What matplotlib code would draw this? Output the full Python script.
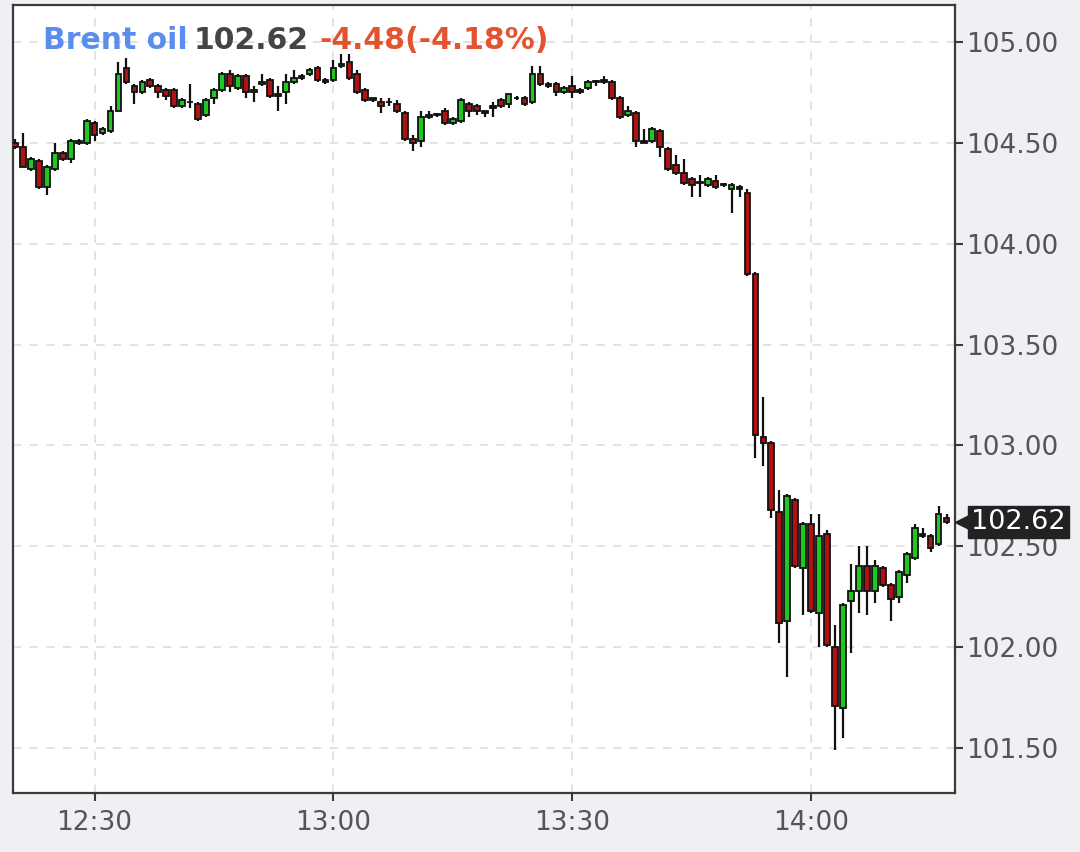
import matplotlib
matplotlib.use("Agg")
import numpy as np
import pandas as pd
import matplotlib.pyplot as plt
import matplotlib.dates as mdates
import matplotlib.transforms as mtransforms

# one-minute candles, 12:20 .. 14:17
times = pd.date_range("2022-03-01 12:20", periods=118, freq="min")

opens = [104.50, 104.48, 104.37, 104.41, 104.28, 104.37, 104.45, 104.42, 104.50, 104.50,
         104.60, 104.55, 104.56, 104.66, 104.87, 104.78, 104.75, 104.81, 104.78, 104.76,
         104.76, 104.68, 104.70, 104.69, 104.64, 104.72, 104.76, 104.84, 104.77, 104.83,
         104.75, 104.79, 104.81, 104.74, 104.75, 104.80, 104.83, 104.84, 104.87, 104.81,
         104.81, 104.88, 104.90, 104.84, 104.76, 104.71, 104.70, 104.70, 104.69, 104.65,
         104.52, 104.51, 104.63, 104.64, 104.66, 104.60, 104.61, 104.69, 104.68, 104.66,
         104.68, 104.71, 104.69, 104.72, 104.72, 104.70, 104.84, 104.79, 104.79, 104.75,
         104.78, 104.76, 104.77, 104.80, 104.81, 104.80, 104.72, 104.64, 104.65, 104.51,
         104.51, 104.56, 104.47, 104.39, 104.35, 104.32, 104.30, 104.29, 104.31, 104.29,
         104.27, 104.28, 104.25, 103.85, 103.04, 103.01, 102.67, 102.13, 102.73, 102.39,
         102.61, 102.17, 102.56, 102.00, 101.70, 102.23, 102.28, 102.40, 102.28, 102.39,
         102.31, 102.25, 102.36, 102.44, 102.56, 102.55, 102.51, 102.64]
highs = [104.52, 104.55, 104.43, 104.42, 104.39, 104.50, 104.46, 104.52, 104.52, 104.62,
         104.61, 104.58, 104.68, 104.90, 104.92, 104.79, 104.81, 104.82, 104.79, 104.77,
         104.77, 104.72, 104.79, 104.70, 104.72, 104.77, 104.85, 104.86, 104.84, 104.84,
         104.78, 104.84, 104.82, 104.78, 104.84, 104.86, 104.84, 104.87, 104.88, 104.82,
         104.91, 104.94, 104.94, 104.86, 104.77, 104.72, 104.72, 104.72, 104.71, 104.66,
         104.54, 104.66, 104.66, 104.65, 104.67, 104.63, 104.72, 104.70, 104.69, 104.66,
         104.70, 104.72, 104.74, 104.73, 104.73, 104.88, 104.88, 104.80, 104.80, 104.78,
         104.83, 104.77, 104.81, 104.81, 104.83, 104.81, 104.73, 104.68, 104.66, 104.57,
         104.58, 104.57, 104.48, 104.44, 104.42, 104.33, 104.34, 104.33, 104.34, 104.30,
         104.30, 104.29, 104.27, 103.86, 103.24, 103.02, 102.78, 102.76, 102.74, 102.62,
         102.66, 102.66, 102.58, 102.11, 102.22, 102.41, 102.50, 102.50, 102.43, 102.40,
         102.32, 102.38, 102.47, 102.61, 102.59, 102.56, 102.70, 102.66]
lows = [104.47, 104.38, 104.36, 104.27, 104.24, 104.36, 104.41, 104.40, 104.49, 104.49,
        104.51, 104.54, 104.55, 104.66, 104.79, 104.69, 104.74, 104.77, 104.72, 104.71,
        104.67, 104.67, 104.67, 104.61, 104.63, 104.69, 104.75, 104.75, 104.76, 104.72,
        104.70, 104.78, 104.72, 104.66, 104.69, 104.79, 104.81, 104.83, 104.80, 104.79,
        104.80, 104.87, 104.81, 104.74, 104.70, 104.70, 104.65, 104.68, 104.65, 104.51,
        104.46, 104.48, 104.62, 104.63, 104.59, 104.59, 104.60, 104.63, 104.64, 104.63,
        104.63, 104.67, 104.67, 104.71, 104.68, 104.69, 104.78, 104.77, 104.73, 104.74,
        104.72, 104.74, 104.76, 104.78, 104.79, 104.71, 104.62, 104.63, 104.48, 104.50,
        104.50, 104.43, 104.36, 104.34, 104.29, 104.23, 104.23, 104.28, 104.27, 104.28,
        104.15, 104.23, 103.84, 102.94, 102.90, 102.64, 102.02, 101.85, 102.39, 102.16,
        102.17, 102.00, 102.00, 101.49, 101.55, 101.97, 102.17, 102.16, 102.22, 102.30,
        102.13, 102.22, 102.32, 102.43, 102.54, 102.47, 102.50, 102.61]
closes = [104.48, 104.38, 104.42, 104.28, 104.38, 104.45, 104.42, 104.51, 104.51, 104.61,
          104.54, 104.57, 104.66, 104.84, 104.80, 104.75, 104.80, 104.78, 104.75, 104.73,
          104.68, 104.71, 104.70, 104.62, 104.71, 104.76, 104.84, 104.78, 104.83, 104.75,
          104.76, 104.80, 104.73, 104.73, 104.80, 104.82, 104.82, 104.86, 104.81, 104.80,
          104.87, 104.89, 104.82, 104.75, 104.71, 104.72, 104.68, 104.70, 104.66, 104.52,
          104.50, 104.63, 104.64, 104.64, 104.60, 104.62, 104.71, 104.66, 104.66, 104.65,
          104.67, 104.68, 104.74, 104.72, 104.69, 104.84, 104.79, 104.78, 104.75, 104.77,
          104.75, 104.75, 104.80, 104.80, 104.80, 104.72, 104.63, 104.66, 104.51, 104.50,
          104.57, 104.48, 104.37, 104.35, 104.30, 104.29, 104.30, 104.32, 104.28, 104.29,
          104.29, 104.27, 103.85, 103.05, 103.01, 102.68, 102.12, 102.75, 102.40, 102.61,
          102.18, 102.55, 102.01, 101.71, 102.21, 102.28, 102.40, 102.28, 102.40, 102.31,
          102.24, 102.37, 102.46, 102.59, 102.55, 102.49, 102.66, 102.62]

y_ticks = [101.5, 102.0, 102.5, 103.0, 103.5, 104.0, 104.5, 105.0]
last_price = "102.62"
title_parts = [("Brent oil", "#5b8def"), ("102.62", "#444444"), ("-4.48(-4.18%)", "#e4532f")]

o = np.array(opens)
h = np.array(highs)
l = np.array(lows)
c = np.array(closes)
x = mdates.date2num(times)
up = c >= o
cols = np.where(up, "#1ec81e", "#b01212")
body_lo = np.minimum(o, c)
body_h = np.maximum(np.abs(c - o), 0.004)

fig = plt.figure(figsize=(10.8, 8.52), dpi=100)
fig.patch.set_facecolor("#eef0f3")
ax = fig.add_axes([13 / 1080, 59 / 852, 942 / 1080, 788 / 852])
ax.set_facecolor("white")

ax.vlines(x, l, h, color="#111111", lw=1.6, zorder=2)
ax.bar(x, body_h, bottom=body_lo, width=0.72 / 1440, color=cols,
       edgecolor="#111111", linewidth=1.3, zorder=3)

t0 = mdates.date2num(pd.Timestamp("2022-03-01 12:19:45"))
t1 = mdates.date2num(pd.Timestamp("2022-03-01 14:18:04"))
ax.set_xlim(t0, t1)
ax.set_ylim(101.277, 105.183)

ax.xaxis.set_major_locator(mdates.MinuteLocator(byminute=[0, 30]))
ax.xaxis.set_major_formatter(mdates.DateFormatter("%H:%M"))
ax.yaxis.tick_right()
ax.set_yticks(y_ticks)
ax.yaxis.set_major_formatter(matplotlib.ticker.FormatStrFormatter("%.2f"))

ax.grid(True, linestyle=(0, (5, 5)), color="#dedede", lw=1.2, zorder=0)
ax.set_axisbelow(True)
for s in ax.spines.values():
    s.set_color("#3a3a3a")
    s.set_linewidth(1.6)
ax.tick_params(axis="both", direction="out", length=6, width=1.5, color="#3a3a3a",
               labelcolor="#555555", labelsize=19)
ax.tick_params(axis="y", pad=2)
ax.tick_params(axis="x", pad=6)

# last price marker on the right axis
trans = mtransforms.blended_transform_factory(ax.transAxes, ax.transData)
lp = float(last_price)
ax.plot([1.0 + 8 / 942], [lp], marker="<", ms=11, color="#222222",
        transform=trans, clip_on=False, zorder=6)
ax.text(1.0 + 16 / 942, lp, last_price, transform=trans, ha="left", va="center",
        fontsize=19.5, color="white", zorder=7, clip_on=False,
        bbox=dict(boxstyle="square,pad=0.12", fc="#222222", ec="#222222"))

# title pieces placed one after another
fig.canvas.draw()
r = fig.canvas.get_renderer()
xp = 43 / 1080
gaps = [6, 11, 0]
for (txt, col), g in zip(title_parts, gaps):
    t = fig.text(xp, 1 - 49 / 852, txt, color=col, fontsize=21.5, fontweight="bold",
                 ha="left", va="baseline")
    bb = t.get_window_extent(renderer=r)
    xp = (bb.x1 + g) / 1080

fig.savefig("out.png", dpi=100, facecolor=fig.get_facecolor())
